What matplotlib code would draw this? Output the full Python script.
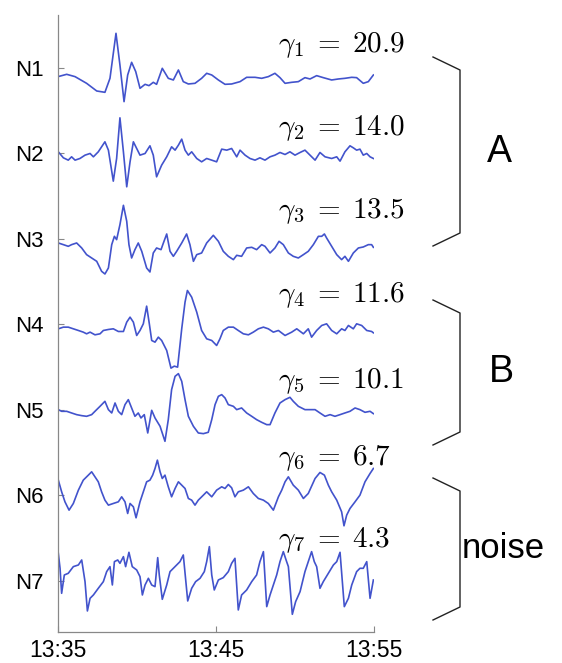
import matplotlib
matplotlib.use('Agg')
import matplotlib.pyplot as plt
import numpy as np

plt.rcParams['font.family'] = ['Liberation Sans', 'DejaVu Sans']
plt.rcParams['mathtext.fontset'] = 'cm'

# minutes after 13:35, amplitude in arbitrary units
n1_t = [0, 0.55, 1.08, 1.81, 2.45, 2.97, 3.29, 3.67, 3.92, 4.18, 4.41, 4.66, 4.92, 5.19, 5.51, 5.76,
        6.03, 6.24, 6.60, 6.98, 7.30, 7.62, 7.93, 8.25, 8.67, 9.09, 9.41, 9.73, 10.15, 10.57, 10.99,
        11.52, 11.94, 12.47, 12.89, 13.31, 13.73, 14.05, 14.37, 14.79, 15.21, 15.63, 15.95, 16.37,
        16.79, 17.32, 17.74, 18.16, 18.59, 18.90, 19.32, 19.64, 19.96]
n1_v = [-2.6, -1.9, -2.6, -4.6, -6.9, -7.3, -3.1, 10.4, 0.9, -10.1, -2.1, 1.7, -1.1, -6.1, -4.9, -5.3,
        -4.3, -4.9, -0.1, -3.1, -3.6, -0.6, -4.1, -4.8, -4.6, -3.1, -1.6, -2.1, -3.6, -4.9, -4.8,
        -4.1, -2.8, -2.8, -3.1, -2.6, -1.6, -2.9, -4.6, -4.3, -4.1, -2.9, -3.3, -2.3,
        -2.9, -3.6, -3.3, -3.1, -2.8, -2.9, -4.6, -4.1, -2.1]

n2_t = [0.02, 0.34, 0.65, 0.86, 1.08, 1.39, 1.71, 2.03, 2.24, 2.55, 2.97, 3.19, 3.50, 3.71, 3.92,
        4.14, 4.35, 4.56, 4.77, 4.98, 5.19, 5.51, 5.82, 6.03, 6.24, 6.56, 6.88, 7.19, 7.41, 7.62,
        7.83, 8.04, 8.25, 8.46, 8.78, 9.09, 9.41, 9.73, 10.04, 10.36, 10.68, 10.99, 11.31, 11.52,
        11.84, 12.15, 12.47, 12.78, 13.10, 13.42, 13.73, 14.05, 14.37, 14.68, 15.00, 15.32, 15.63,
        15.95, 16.27, 16.58, 16.90, 17.32, 17.64, 17.85, 18.16, 18.48, 18.69, 18.90, 19.11, 19.32,
        19.54, 19.75, 19.96]
n2_v = [0.5, -1.3, -2.0, -1.0, -2.0, -1.5, -0.5, 0, -1.0, 0.5, 3.5, 1.0, -8.3, -1.5, 10.7,
        0.5, -10.0, -2.5, 3.5, 1.5, -0.5, 0, 2.3, -0.5, -7.0, -3.5, -1.0, 2.0, 1.0, 2.5,
        4.3, 1.0, -0.5, 0.5, -1.5, -2.5, -1.5, -2.0, -2.5, 1.3, 1.0, 1.5, -1.0, 1.0,
        -0.5, -1.5, -2.0, -1.3, -2.0, -1.0, -0.5, 0.3, -0.3, 0.5, -0.5, 0.3, 1.0,
        -0.5, -2.0, 0.3, -1.0, -1.5, -1.0, -2.3, 0.5, 2.3, 1.7, 1.0, 1.3, -0.5,
        0, -1.0, -1.5]

n3_t = [0.02, 0.34, 0.65, 0.86, 1.18, 1.50, 1.81, 2.13, 2.45, 2.76, 2.97, 3.19, 3.40, 3.57, 3.71,
        3.92, 4.14, 4.35, 4.49, 4.66, 4.87, 5.08, 5.30, 5.61, 5.82, 6.03, 6.24, 6.52, 6.67, 6.88,
        7.09, 7.30, 7.51, 7.83, 8.14, 8.35, 8.57, 8.78, 9.09, 9.41, 9.83, 10.15, 10.46, 10.78,
        11.10, 11.31, 11.62, 11.94, 12.26, 12.57, 12.89, 13.10, 13.42, 13.73, 13.99, 14.26, 14.58,
        14.89, 15.21, 15.53, 15.84, 16.16, 16.48, 16.69, 16.86, 17.00, 17.32, 17.64, 17.95, 18.16,
        18.38, 18.69, 19.01, 19.32, 19.64, 19.85, 19.96]
n3_v = [-1.2, -1.7, -2.2, -1.7, -1.2, -2.7, -4.7, -5.7, -6.7, -9.7, -10.5, -8.7, -1.7, 0.8, -0.2,
        4.3, 10.1, 5.3, -1.7, -5.7, -3.2, -1.2, -3.7, -8.7, -9.9, -4.2, -2.7, -3.2, -1.2, 1.5,
        -3.7, -5.2, -3.7, -1.2, 1.5, -1.7, -6.7, -4.7, -4.2, -1.2, 1.1, -0.7, -3.7, -5.2,
        -6.2, -4.9, -5.2, -2.7, -2.5, -3.2, -1.7, -2.2, -4.2, -2.7, -0.7, -1.7, -4.2,
        -5.2, -5.7, -4.7, -3.7, -1.7, 0.8, 0.8, 1.5, 0.3, -2.2, -4.7, -6.2, -5.2,
        -6.7, -4.2, -2.7, -2.4, -1.7, -1.7, -2.5]

n4_t = [0.02, 0.34, 0.65, 0.97, 1.29, 1.60, 1.81, 2.03, 2.34, 2.66, 2.87, 3.19, 3.50, 3.82, 4.14,
        4.35, 4.56, 4.77, 4.98, 5.19, 5.40, 5.61, 5.78, 5.93, 6.14, 6.35, 6.56, 6.88, 7.15, 7.36,
        7.57, 7.83, 8.04, 8.19, 8.46, 8.78, 9.09, 9.41, 9.73, 10.04, 10.25, 10.46, 10.78, 11.10,
        11.41, 11.73, 12.05, 12.36, 12.68, 13.00, 13.31, 13.63, 13.95, 14.37, 14.79, 15.11, 15.53,
        15.84, 16.05, 16.37, 16.69, 17.00, 17.32, 17.64, 17.95, 18.16, 18.38, 18.69, 18.90, 19.22,
        19.54, 19.85, 19.96]
n4_v = [-1.3, -0.8, -0.8, -1.3, -1.8, -2.3, -2.8, -2.3, -3.1, -2.8, -1.8, -1.5, -1.3, -2.1, -2.1,
        0.7, 2.2, 0.7, -3.3, -1.8, 0.2, 5.5, 0.2, -4.8, -5.3, -3.8, -4.8, -7.8, -13.1, -12.5,
        -12.8, -1.3, 6.7, 10.2, 8.2, 3.7, -1.8, -4.3, -4.8, -6.3, -4.3, -1.8, -0.8, -0.8,
        -1.8, -2.8, -3.1, -2.3, -1.3, -0.8, -1.3, -2.3, -1.8, -3.3, -2.3, -1.3, -2.8,
        -1.3, -3.8, -1.8, -0.3, 0.2, -1.8, -2.8, -1.3, -1.8, -0.3, -1.3, 0.2, -0.3,
        -1.8, -2.1, -2.5]

n5_t = [0.02, 0.23, 0.55, 0.86, 1.18, 1.50, 1.81, 2.13, 2.34, 2.66, 2.97, 3.19, 3.40, 3.61, 3.82,
        4.03, 4.24, 4.45, 4.66, 4.87, 5.08, 5.25, 5.46, 5.68, 5.93, 6.14, 6.46, 6.77, 6.98, 7.19,
        7.41, 7.62, 7.83, 8.04, 8.25, 8.57, 8.88, 9.20, 9.51, 9.73, 9.94, 10.15, 10.36, 10.57,
        10.78, 11.10, 11.31, 11.62, 11.94, 12.26, 12.57, 12.89, 13.21, 13.42, 13.73, 14.05, 14.37,
        14.68, 14.89, 15.21, 15.63, 15.95, 16.27, 16.58, 16.90, 17.22, 17.53, 17.85, 18.16, 18.48,
        18.80, 19.11, 19.43, 19.75, 19.96]
n5_v = [0.1, -0.4, -0.4, -0.9, -1.4, -1.7, -1.9, -1.4, -0.4, 1.1, 2.6, 0.1, -0.9, 2.1, -0.4,
        -1.4, 1.6, 3.1, 0.6, -1.9, -0.9, -2.4, -1.4, -6.9, -0.1, -2.4, -4.9, -9.4, -2.9, 6.1,
        10.1, 10.9, 8.6, 3.1, -1.9, -4.9, -6.9, -7.1, -6.7, -2.9, 1.6, 4.1, 4.6, 3.6,
        1.6, 1.1, 0.1, 0.6, -0.9, -1.9, -2.9, -3.7, -4.4, -4.4, -0.9, 2.1, 3.1,
        3.8, 2.6, 1.1, 0.1, 0.1, 0.1, -0.9, -1.9, -1.4, -1.9, -1.4, -0.9, -0.4,
        0.6, 0.1, -0.7, -0.4, -1.1]

n6_t = [0.02, 0.23, 0.44, 0.70, 0.97, 1.29, 1.60, 1.92, 2.13, 2.34, 2.55, 2.76, 2.97, 3.19, 3.50,
        3.82, 4.03, 4.24, 4.41, 4.56, 4.77, 4.94, 5.19, 5.40, 5.61, 5.82, 5.99, 6.14, 6.29, 6.46,
        6.60, 6.77, 6.98, 7.19, 7.41, 7.62, 7.83, 8.04, 8.25, 8.46, 8.67, 8.88, 9.20, 9.41, 9.73,
        10.04, 10.36, 10.57, 10.78, 10.99, 11.20, 11.41, 11.73, 12.05, 12.36, 12.68, 13.00, 13.31,
        13.63, 13.95, 14.16, 14.37, 14.58, 14.89, 15.21, 15.53, 15.84, 16.27, 16.58, 16.86, 17.11,
        17.32, 17.64, 17.95, 18.10, 18.27, 18.48, 18.80, 19.11, 19.43, 19.75, 19.96]
n6_v = [4.6, 1.1, -1.9, -4.4, -2.4, 1.6, 4.6, 6.1, 7.1, 5.6, 4.1, 1.1, -1.4, -2.9, -2.4,
        -1.9, -0.4, -1.9, -5.4, -2.4, -3.4, -6.7, -1.9, 1.1, 4.1, 4.6, 6.1, 8.1, 10.6, 7.1,
        5.1, 6.1, 2.6, -0.4, 2.1, 4.1, 3.1, 2.1, -0.9, -1.4, -2.9, -1.4, 0.1, 1.1, -0.4,
        1.6, 2.6, 2.1, 3.3, 2.3, -0.4, 1.1, 1.6, 2.6, 0.6, -0.9, -1.4, -2.4,
        -4.4, -0.4, 1.6, 4.1, 5.6, 3.1, 1.6, -0.9, 0.6, 5.1, 6.9, 6.1, 3.1,
        1.1, -1.4, -4.9, -9.1, -5.9, -3.9, -1.9, 0.1, 4.1, 6.6, 8.1]

n7_t = [0.02, 0.13, 0.23, 0.40, 0.65, 0.97, 1.29, 1.50, 1.71, 1.86, 2.03, 2.24, 2.55, 2.87, 3.08,
        3.29, 3.44, 3.57, 3.78, 3.92, 4.14, 4.28, 4.49, 4.70, 4.98, 5.19, 5.34, 5.51, 5.72, 5.93,
        6.14, 6.31, 6.41, 6.60, 6.88, 7.09, 7.30, 7.51, 7.72, 7.93, 8.21, 8.46, 8.71, 8.99, 9.26,
        9.41, 9.58, 9.73, 9.89, 10.15, 10.46, 10.78, 10.99, 11.20, 11.41, 11.62, 11.94, 12.26,
        12.57, 12.78, 13.00, 13.21, 13.42, 13.63, 13.84, 14.05, 14.26, 14.47, 14.58, 14.83, 15.04,
        15.32, 15.63, 15.84, 16.05, 16.22, 16.37, 16.58, 16.79, 17.11, 17.43, 17.64, 17.85, 18.12,
        18.38, 18.59, 18.90, 19.11, 19.32, 19.54, 19.75, 19.96]
n7_v = [8.3, 3.8, -3.7, 1.8, 2.3, 4.3, 4.8, 6.3, -0.2, -9.0, -5.2, -4.2, -2.2, -0.2, 2.8,
        4.3, -1.2, 5.8, 6.3, 5.3, 7.3, 4.3, 8.6, 4.3, 3.3, 1.3, -4.2, -1.2, 0.8, -1.2,
        -1.7, 7.0, 1.8, -5.5, -1.2, 2.8, 3.8, 4.8, 5.8, 7.8, -6.0, -2.2, -0.2, 0.8, 2.8,
        5.8, 10.3, 1.8, -2.7, 0.3, 1.0, 2.8, 5.3, 6.8, -8.7, -4.2, -2.7, -0.2,
        1.8, 5.8, 8.8, -7.7, -4.2, -1.2, 1.8, 5.8, 8.8, 5.8, 4.3, -10.0, -6.2,
        -3.2, 2.8, 5.8, 8.8, 5.8, 4.3, -2.2, -0.2, 2.3, 4.8, 5.8, 8.6, -7.7,
        -5.2, -1.2, 2.8, 3.8, 3.8, 5.8, -5.2, 0.3]

channels = ['N1', 'N2', 'N3', 'N4', 'N5', 'N6', 'N7']
gammas = ['20.9', '14.0', '13.5', '11.6', '10.1', '6.7', '4.3']
time_ticks = [0, 10, 20]
time_labels = ['13:35', '13:45', '13:55']

traces = [(n1_t, n1_v), (n2_t, n2_v), (n3_t, n3_v), (n4_t, n4_v),
          (n5_t, n5_v), (n6_t, n6_v), (n7_t, n7_v)]

spacing = 25.65
offsets = [-i * spacing for i in range(len(traces))]
# height of each gamma label above its trace
label_lift = [6.9, 7.5, 8.4, 8.7, 8.7, 11.1, 12.3]

fig = plt.figure(figsize=(5.62, 6.63), dpi=100)
ax = fig.add_axes([0.1032, 0.0468, 0.5623, 0.9306])

for (t, v), off in zip(traces, offsets):
    ax.plot(t, np.array(v) + off, color='#4253cc', lw=1.2, solid_joinstyle='round')

for i, g in enumerate(gammas):
    ax.text(13.9, offsets[i] + label_lift[i], r'$\gamma_%d\;=\;%s$' % (i + 1, g),
            fontsize=21, ha='left', va='center')

ax.set_xlim(0, 20)
ax.set_ylim(offsets[-1] - 15.3, 15.9)
ax.set_xticks(time_ticks)
ax.set_xticklabels(time_labels, fontsize=16.5)
ax.set_yticks(offsets)
ax.set_yticklabels(channels, fontsize=16)
ax.tick_params(direction='in', length=4, width=0.8, color='#888888')
ax.tick_params(axis='y', pad=10)
ax.tick_params(axis='x', pad=5)
for s in ['top', 'right']:
    ax.spines[s].set_visible(False)
for s in ['left', 'bottom']:
    ax.spines[s].set_color('#888888')
    ax.spines[s].set_linewidth(0.9)

# group brackets on the right, in figure pixels
def bracket(y0, y1, label, fs, x_text):
    H = 663.0
    xs = np.array([433, 460, 460, 433]) / 562.0
    ys = 1 - np.array([y0, y0 + 13, y1 - 13, y1]) / H
    fig.add_artist(plt.Line2D(xs, ys, color='#222222', lw=1.0))
    fig.text(x_text / 562.0, 1 - (y0 + y1) / 2 / H, label, fontsize=fs, ha='left', va='center')

bracket(57, 246, 'A', 27, 487)
bracket(300, 445, 'B', 27, 489)
bracket(478, 620, 'noise', 25, 462)

fig.savefig('out.png', dpi=100)
